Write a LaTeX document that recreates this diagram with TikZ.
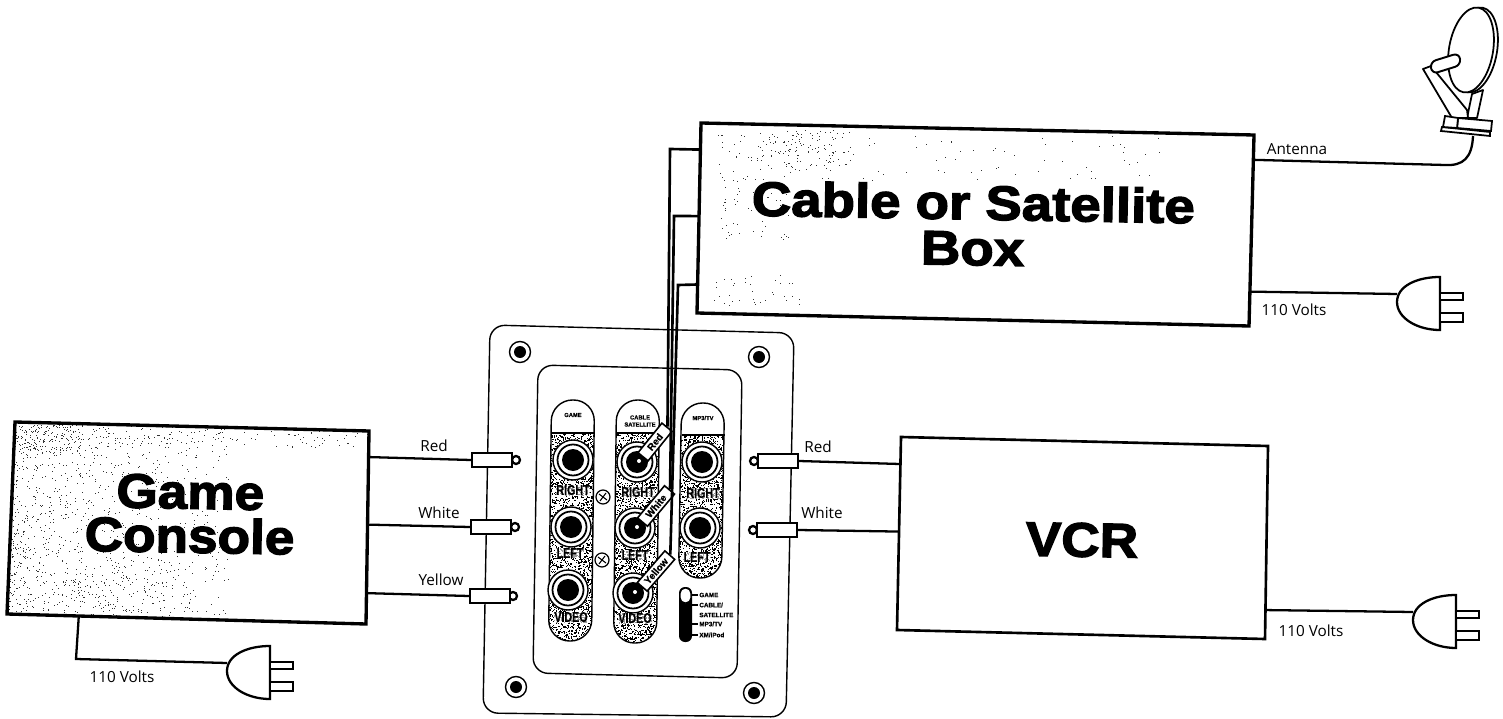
\documentclass[tikz,border=0pt]{standalone}
\usepackage{fontspec}
\setmainfont{Open Sans}
\newfontfamily\blackfont[FakeBold=2.8,FakeStretch=1.1]{Liberation Sans Bold}
\newfontfamily\blackwide[FakeBold=2.8,FakeStretch=1.13]{Liberation Sans Bold}
\newfontfamily\panelfont[FakeBold=0.6]{Liberation Sans Bold}
\newfontfamily\jackfont[FakeBold=0.8,FakeStretch=0.76]{Liberation Sans Bold}
\usetikzlibrary{calc}
\tikzset{
 x=0.02cm,y=-0.02cm,
 boxline/.style={draw=black,line width=1.9pt,line join=miter},
 vcrline/.style={draw=black,line width=1.5pt},
 wire/.style={draw=black,line width=1.3pt},
 cablewire/.style={draw=black,line width=1.5pt,line join=miter},
 thinline/.style={draw=black,line width=.6pt},
 label/.style={font=\fontsize{8.7}{10}\selectfont,inner sep=0pt},
 title/.style={font=\blackfont\fontsize{27.5}{25}\selectfont,align=center,inner sep=0pt},
 titlewide/.style={font=\blackwide\fontsize{27.5}{25}\selectfont,align=center,inner sep=0pt},
 rca/.style={draw=black,line width=1.3pt,fill=white,rectangle,minimum width=40*0.02cm,minimum height=14*0.02cm,inner sep=0pt},
 cableplug/.style={draw=black,line width=.9pt,fill=white,rectangle,minimum height=13*0.02cm,inner sep=0pt,font=\panelfont\fontsize{5.6}{6}\selectfont},
 jacklabel/.style={font=\jackfont\fontsize{8}{8}\selectfont,inner sep=.3pt,fill=white,fill opacity=.6,text opacity=1},
 headlabel/.style={font=\panelfont\fontsize{3.3}{4}\selectfont,inner sep=0pt},
 sliderlabel/.style={font=\panelfont\fontsize{3.6}{4}\selectfont,inner sep=0pt,anchor=west},
}
\newcommand\stipple[6]{\foreach \i in {1,...,#5}{\pgfmathsetmacro\sx{#1+#3*rnd^#6}\pgfmathsetmacro\sy{#2+#4*rnd}\fill[black!80] (\sx,\sy) rectangle ++(.7,.7);}}
\newcommand\bigstipple[5]{\foreach \i in {1,...,#5}{\pgfmathsetmacro\sx{#1+#3*rnd}\pgfmathsetmacro\sy{#2+#4*rnd}\fill (\sx,\sy) rectangle ++(1.15,1.15);}}
\newcommand\plugbody[3]{\begin{scope}[shift={(#2,#3)}]
 \coordinate (#1) at (0,0);
 \draw[wire,fill=white] (43,-17) .. controls (20,-17) and (0,-8) .. (0,8) .. controls (0,24) and (20,36) .. (43,36) -- cycle;
 \draw[wire,fill=white] (43,-1) rectangle (66,6);
 \draw[wire,fill=white] (43,19) rectangle (66,28);
\end{scope}}
\newcommand\jack[3]{\fill[white] (#1,#2) circle (20.5);
 \draw[thinline,line width=.8pt] (#1,#2) circle (20);
 \draw[draw=black,line width=1pt] (#1,#2) circle (15.5);
 \fill[black] (#1,#2) circle (11);
 \ifnum#3=1 \fill[white] (#1+2,#2-1) circle (2);\fi}
\newcommand\panelcol[6]{\begin{scope}
 \path[clip,rounded corners=21*0.02cm] (#1-21.5,#2) -- (#1+21.5,#2) -- (#3+21.5,#4) -- (#3-21.5,#4) -- cycle;
 \bigstipple{#3-24}{#5}{50}{(#4-#5)}{#6}
 \end{scope}
 \draw[draw=black,line width=.8pt,rounded corners=21*0.02cm] (#1-21.5,#2) -- (#1+21.5,#2) -- (#3+21.5,#4) -- (#3-21.5,#4) -- cycle;
 \draw[draw=black,line width=.8pt] (#1-21.5,#5) -- (#1+21.5,#5);}
\newcommand\screw[2]{\draw[draw=black,line width=.8pt] (#1,#2) circle (10.5);\fill[black] (#1,#2) circle (6);}
\newcommand\xmark[2]{\draw[draw=black,line width=.7pt] (#1,#2) circle (7);
 \draw[draw=black,line width=.6pt] (#1-4,#2-3) -- (#1+4,#2+3) (#1-3,#2+4) -- (#1+3,#2-4);}
\begin{document}
\begin{tikzpicture}
\useasboundingbox[fill=white] (0,0) rectangle (1503,719);
\pgfmathsetseed{4711}
% ---------- corners of the three boxes
\coordinate (gcTL) at (15,422); \coordinate (gcTR) at (369,431);
\coordinate (gcBR) at (366,624); \coordinate (gcBL) at (7,614);
\coordinate (cbTL) at (701,123); \coordinate (cbTR) at (1254,135);
\coordinate (cbBR) at (1249,326); \coordinate (cbBL) at (697,313);
\coordinate (vcTL) at (901,437); \coordinate (vcTR) at (1268,446);
\coordinate (vcBR) at (1265,639); \coordinate (vcBL) at (897,630);
% ---------- wall panel
\draw[thinline,line width=.8pt,rounded corners=15*0.02cm] (490,325) -- (794,333) -- (786,717) -- (483,713) -- cycle;
\draw[thinline,line width=.8pt,rounded corners=15*0.02cm] (538,365) -- (742,370) -- (737,678) -- (533,673) -- cycle;
\screw{520}{352}\screw{759}{357}\screw{516}{687}\screw{754}{693}
\panelcol{573}{400}{570}{641}{433}{2900}
\panelcol{638}{400}{635}{643}{433}{2900}
\panelcol{703}{403}{700}{578}{435}{1950}
\node[headlabel] (hGame) at (573,415) {GAME};
\node[headlabel,align=center] (hCable) at (640,421) {CABLE\\SATELLITE};
\node[headlabel] (hMp) at (703,418) {MP3/TV};
\jack{573}{460}{0}\jack{571}{527}{0}\jack{568}{590}{0}
\jack{637}{462}{1}\jack{635}{528}{1}\jack{633}{593}{1}
\jack{702}{462}{0}\jack{700}{528}{0}
\node[jacklabel] (l1) at (573,490) {RIGHT};
\node[jacklabel] (l2) at (570,553) {LEFT};
\node[jacklabel] (l3) at (571,617) {VIDEO};
\node[jacklabel] (l4) at (638,492) {RIGHT};
\node[jacklabel] (l5) at (635,555) {LEFT};
\node[jacklabel] (l6) at (635,618) {VIDEO};
\node[jacklabel] (l7) at (703,493) {RIGHT};
\node[jacklabel] (l8) at (697,557) {LEFT};
\xmark{603}{497}\xmark{602}{560}
% selector
\fill[black,rounded corners=6*0.02cm] (679,587) rectangle (692,642);
\draw[draw=black,line width=.8pt,fill=white,rounded corners=5*0.02cm] (680,588) rectangle (691,603);
\foreach \yy in {595,605,624,635}{\draw[draw=black,line width=.7pt] (692,\yy) -- (698,\yy);}
\node[sliderlabel] (s1) at (699,595) {GAME};
\node[sliderlabel] (s2) at (699,605) {CABLE/};
\node[sliderlabel] (s3) at (699,615) {SATELLITE};
\node[sliderlabel] (s4) at (699,624) {MP3/TV};
\node[sliderlabel] (s5) at (699,635) {XM/iPod};
% ---------- boxes
\begin{scope}
 \clip (gcTL) -- (gcTR) -- (gcBR) -- (gcBL) -- cycle;
 \stipple{8}{422}{220}{195}{1100}{2}
 \stipple{10}{422}{360}{25}{200}{1}
 \stipple{20}{425}{60}{30}{110}{1}
 \stipple{60}{560}{130}{50}{120}{1}
\end{scope}
\draw[boxline] (gcTL) -- (gcTR) -- (gcBR) -- (gcBL) -- cycle;
\begin{scope}
 \clip (cbTL) -- (cbTR) -- (cbBR) -- (cbBL) -- cycle;
 \stipple{760}{130}{90}{40}{90}{1}
 \stipple{715}{132}{170}{50}{90}{1}
 \stipple{720}{180}{70}{60}{50}{1}
 \stipple{710}{275}{90}{30}{35}{1}
 \stipple{900}{135}{260}{45}{50}{1}
\end{scope}
\draw[boxline] (cbTL) -- (cbTR) -- (cbBR) -- (cbBL) -- cycle;
\draw[vcrline] (vcTL) -- (vcTR) -- (vcBR) -- (vcBL) -- cycle;
\node[title,rotate=-1] (gcText) at (190,514) {Game\\Console};
\node[titlewide,rotate=-1] (cbText) at (973,225) {Cable or Satellite\\[1pt]Box};
\node[title,rotate=-1] (vcText) at (1082,540) {VCR};
% ---------- RCA connectors
\foreach \nm/\cx/\cy/\tx in {gR/492/460/516,gW/491/527/515,gY/490/596/513}{
  \draw[wire,fill=white] (\tx,\cy) circle (4);
  \node[rca] (\nm) at (\cx,\cy) {};}
\foreach \nm/\cx/\cy/\tx in {vR/778/461/754,vW/777/530/753}{
  \draw[wire,fill=white] (\tx,\cy) circle (4);
  \node[rca] (\nm) at (\cx,\cy) {};}
\coordinate (pGR) at ($(gcTR)!.135!(gcBR)$);
\coordinate (pGW) at ($(gcTR)!.485!(gcBR)$);
\coordinate (pGY) at ($(gcTR)!.84!(gcBR)$);
\coordinate (pVR) at ($(vcTL)!.14!(vcBL)$);
\coordinate (pVW) at ($(vcTL)!.49!(vcBL)$);
\draw[wire] (pGR) -- (gR.west);
\draw[wire] (pGW) -- (gW.west);
\draw[wire] (pGY) -- (gY.west);
\draw[wire] (vR.east) -- (pVR);
\draw[wire] (vW.east) -- (pVW);
\node[label] (tGR) at (434,446) {Red};
\node[label] (tGW) at (439,513) {White};
\node[label] (tGY) at (441,580) {Yellow};
\node[label] (tVR) at (818,447) {Red};
\node[label] (tVW) at (822,513) {White};
% ---------- cables into the satellite jacks
\node[cableplug,rotate=51,minimum width=38*0.02cm] (cR) at (655,442) {Red};
\node[cableplug,rotate=50,minimum width=42*0.02cm] (cW) at (656,506) {White};
\node[cableplug,rotate=49,minimum width=42*0.02cm] (cY) at (656,571) {Yellow};
\coordinate (pCR) at ($(cbTL)!.14!(cbBL)$);
\coordinate (pCW) at ($(cbTL)!.49!(cbBL)$);
\coordinate (pCY) at ($(cbTL)!.85!(cbBL)$);
\coordinate (bCR) at (670,149);
\coordinate (bCW) at (674,216);
\coordinate (bCY) at (678,285);
\draw[cablewire] (pCR) -- (bCR) -- (cR.east);
\draw[cablewire] (pCW) -- (bCW) -- (cW.east);
\draw[cablewire] (pCY) -- (bCY) -- (cY.east);
% ---------- plugs
\plugbody{plugG}{227}{663}
\plugbody{plugC}{1397}{294}
\plugbody{plugV}{1413}{612}
\coordinate (pGP) at ($(gcBL)!.2!(gcBR)$);
\coordinate (bGP) at (76,659);
\draw[wire,line join=miter] (pGP) -- (bGP) -- (plugG);
\coordinate (pCP) at ($(cbTR)!.82!(cbBR)$);
\draw[wire] (pCP) -- (plugC);
\coordinate (pVP) at ($(vcTR)!.85!(vcBR)$);
\draw[wire] (pVP) -- (plugV);
\node[label] (tGP) at (122,677) {110 Volts};
\node[label] (tCP) at (1294,310) {110 Volts};
\node[label] (tVP) at (1311,631) {110 Volts};
% ---------- satellite dish
\draw[thinline,line width=1pt,fill=white,shift={(1475,50)},rotate=-10] (0,0) ellipse (22 and 43);
\draw[thinline,line width=1pt,fill=white,shift={(1471,50)},rotate=-10] (0,0) ellipse (22 and 43);
\draw[thinline,line width=1pt,fill=white,line join=round] (1472,94) -- (1483,90) -- (1477,118) -- (1467,118) -- cycle;
\draw[thinline,line width=1pt,fill=white,line join=round] (1423,69) -- (1431,66) -- (1467,110) -- (1468,118) -- (1452,118) -- cycle;
\draw[thinline,line width=1.1pt,fill=white,line cap=round,rounded corners=6*0.02cm] (1430,62) -- (1459,53) -- (1461,65) -- (1432,74) -- cycle;
\draw[thinline,line width=1pt,fill=white] (1442,127) -- (1490,132) -- (1490,136) -- (1441,131) -- cycle;
\draw[thinline,line width=1pt,fill=white] (1458,118) -- (1492,121) -- (1491,131) -- (1457,128) -- cycle;
\draw[thinline,line width=1pt,fill=white] (1445,116) -- (1458,118) -- (1457,128) -- (1443,127) -- cycle;
\coordinate (dishFoot) at (1473,136);
\coordinate (pCA) at ($(cbTR)!.13!(cbBR)$);
\node[label] (tAnt) at (1297,149) {Antenna};
\draw[wire] (pCA) -- (1445,165) .. controls (1463,166) and (1472,158) .. (dishFoot);
\end{tikzpicture}
\end{document}
